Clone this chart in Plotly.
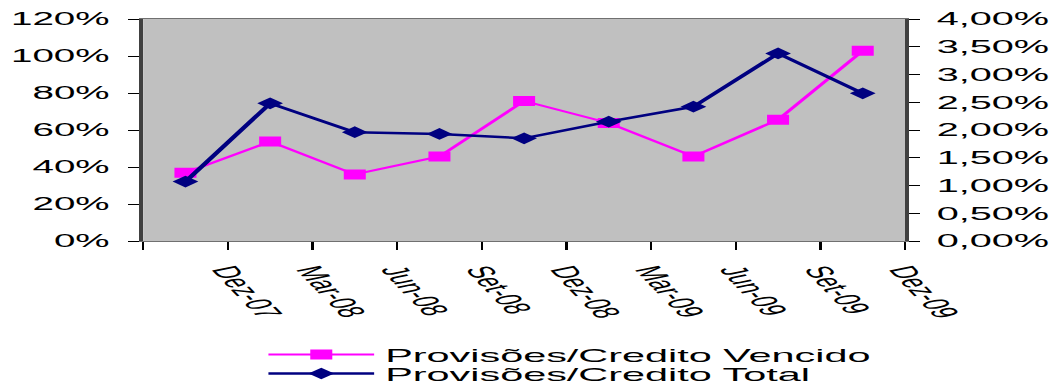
import plotly.graph_objects as go

# Quarter labels on the category axis
categories = ["Dez-07", "Mar-08", "Jun-08", "Set-08", "Dez-08",
              "Mar-09", "Jun-09", "Set-09", "Dez-09"]

# Provisões / Crédito Vencido (left axis, fraction)
prov_vencido = [0.369, 0.538, 0.360, 0.457, 0.757, 0.638, 0.457, 0.656, 1.028]
# Provisões / Crédito Total (right axis, fraction)
prov_total = [0.0107, 0.0248, 0.0196, 0.0193, 0.0185, 0.0215, 0.0242, 0.0338, 0.0266]

left_ticks = [0, 0.2, 0.4, 0.6, 0.8, 1.0, 1.2]
left_labels = ["0%", "20%", "40%", "60%", "80%", "100%", "120%"]
right_ticks = [0, 0.005, 0.01, 0.015, 0.02, 0.025, 0.03, 0.035, 0.04]
right_labels = ["0,00%", "0,50%", "1,00%", "1,50%", "2,00%",
                "2,50%", "3,00%", "3,50%", "4,00%"]

# Points sit in the middle of each category slot; labels hang from the slot edges
n = len(categories)
x_pts = [i + 0.5 for i in range(n)]
x_edges = list(range(n + 1))
x_edge_labels = [""] + categories

FONT = "Liberation Sans, Arial, sans-serif"
BASE_W, STRETCH = 480, 1057 / 480

fig = go.Figure()
fig.add_trace(go.Scatter(
    x=x_pts, y=prov_vencido, name="Provisões/Credito Vencido",
    mode="lines+markers", yaxis="y",
    line=dict(color="#FF00FF", width=2),
    marker=dict(symbol="square", size=10, color="#FF00FF"),
    legend="legend",
))
fig.add_trace(go.Scatter(
    x=x_pts, y=prov_total, name="Provisões/Credito Total",
    mode="lines+markers", yaxis="y2",
    line=dict(color="#000080", width=2.5),
    marker=dict(symbol="diamond", size=9, color="#000080"),
    legend="legend2",
))

legend_common = dict(
    xanchor="left", yanchor="middle", x=0.15,
    font=dict(family=FONT, size=18.8, color="black"),
    bgcolor="rgba(0,0,0,0)", borderwidth=0, itemwidth=48,
)

fig.update_layout(
    width=BASE_W, height=387,
    margin=dict(l=65, r=69, t=19, b=146, autoexpand=False),
    paper_bgcolor="white", plot_bgcolor="#C0C0C0",
    showlegend=True,
    legend=dict(y=-0.513, **legend_common),
    legend2=dict(y=-0.598, **legend_common),
    xaxis=dict(
        range=[0, n], tickvals=x_edges, ticktext=x_edge_labels,
        tickangle=66, ticks="outside", ticklen=8, tickwidth=0.6,
        ticklabelstandoff=4,
        tickcolor="black", tickfont=dict(family=FONT, size=17, color="black"),
        showgrid=False, zeroline=False,
        showline=True, linecolor="#707070", linewidth=1, mirror=True,
    ),
    yaxis=dict(
        range=[0, 1.2], tickvals=left_ticks, ticktext=left_labels,
        ticks="outside", ticklen=5, tickcolor="black", tickwidth=1.2,
        ticklabelstandoff=5,
        tickfont=dict(family=FONT, size=17.5, color="black"),
        showgrid=False, zeroline=False,
        showline=True, linecolor="#404040", linewidth=1.5,
    ),
    yaxis2=dict(
        range=[0, 0.04], tickvals=right_ticks, ticktext=right_labels,
        overlaying="y", side="right", anchor="x",
        ticks="outside", ticklen=5, tickcolor="black", tickwidth=1.2,
        ticklabelstandoff=4,
        tickfont=dict(family=FONT, size=18, color="black"),
        showgrid=False, zeroline=False,
        showline=True, linecolor="#404040", linewidth=1.5,
    ),
    # inner halves of the crossing tick marks
    yaxis3=dict(
        range=[0, 1.2], tickvals=left_ticks, overlaying="y", side="left",
        anchor="x", ticks="inside", ticklen=5, tickcolor="black",
        tickwidth=1.2, showticklabels=False, showgrid=False,
        zeroline=False, showline=False,
    ),
    yaxis4=dict(
        range=[0, 0.04], tickvals=right_ticks, overlaying="y", side="right",
        anchor="x", ticks="inside", ticklen=5, tickcolor="black",
        tickwidth=1.2, showticklabels=False, showgrid=False,
        zeroline=False, showline=False,
    ),
)

# The chart is laid out narrow and widened horizontally to the page width
stretch_js = (
    "var gd = document.getElementById('{plot_id}');"
    "gd.style.transformOrigin = '0 0';"
    "gd.style.transform = 'scaleX(%.5f)';" % STRETCH
)
fig.write_html("out.html", post_script=stretch_js,
               config={"responsive": False, "displayModeBar": False})
